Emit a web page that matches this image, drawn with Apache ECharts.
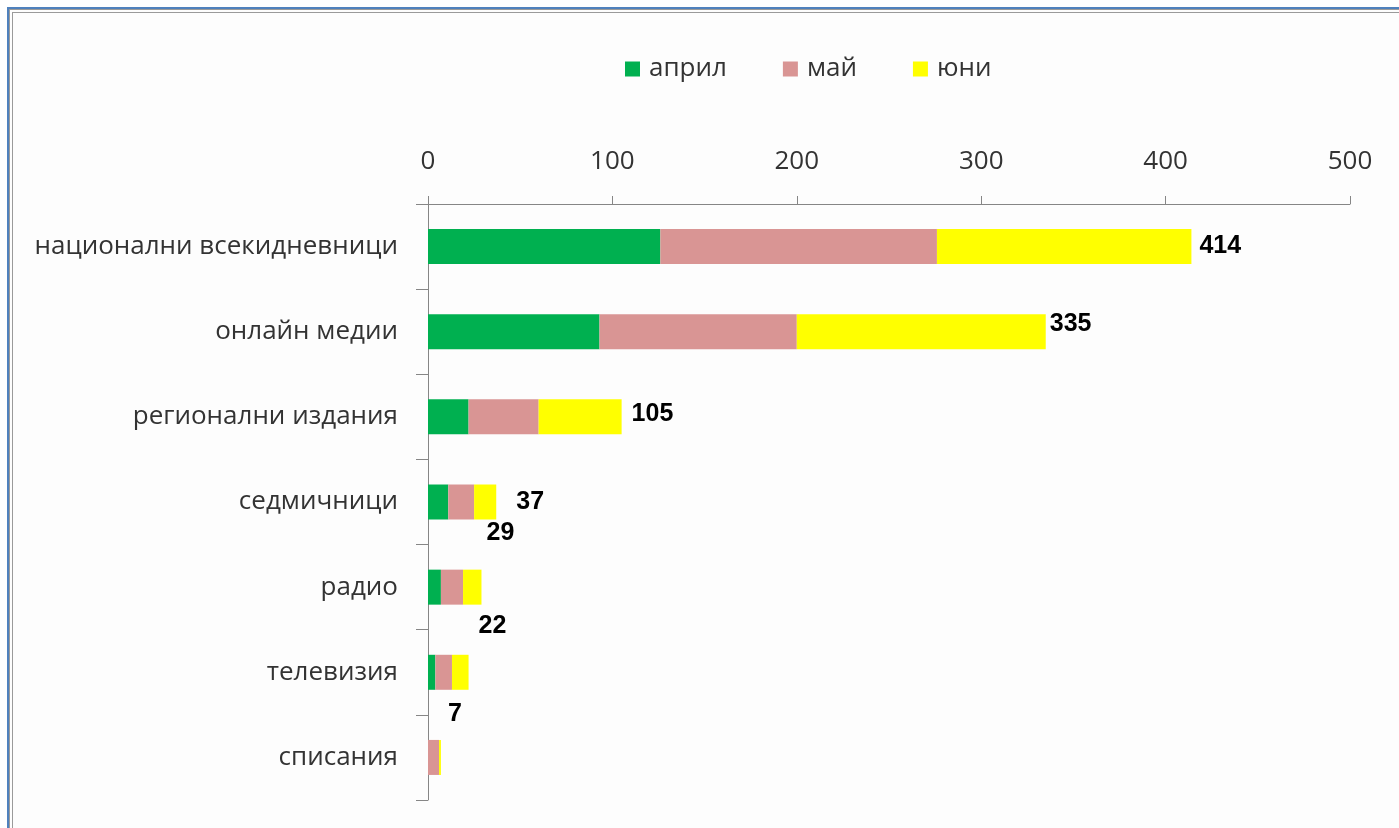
<!DOCTYPE html>
<html>
<head>
<meta charset="utf-8">
<script src="https://cdn.jsdelivr.net/npm/echarts@6/dist/echarts.min.js"></script>
<style>
    html, body { margin: 0; padding: 0; background: #fff; }
    #frame {
        position: absolute; left: 7px; top: 7px; width: 1400px; height: 830px;
        border-left: 2px solid #4f81bd; border-top: 2px solid #4f81bd;
    }
    #inner {
        position: absolute; left: 0; top: 0; right: 0; bottom: 0;
        border-left: 4px double #9a9a9a; border-top: 4px double #9a9a9a;
        background: #fdfdfd;
    }
    #chart { position: absolute; left: 0; top: 0; width: 1399px; height: 828px; }
</style>
</head>
<body>
<div id="frame"><div id="inner"></div></div>
<div id="chart"></div>
<script>
var categories = [
    "национални всекидневници",
    "онлайн медии",
    "регионални издания",
    "седмичници",
    "радио",
    "телевизия",
    "списания",
];
var seriesNames = ["април", "май", "юни"];
var april = [126, 93, 22, 11, 7, 4, 0];
var may = [150, 107, 38, 14, 12, 9, 6];
var june = [138, 135, 45, 12, 10, 9, 1];
var totals = [414, 335, 105, 37, 29, 22, 7];
var xTicks = [0, 100, 200, 300, 400, 500];

var colors = ["#00B050", "#D99594", "#FFFF00"];
// where each total label sits relative to the end of its bar
var labelOffsets = [[3, 0], [-1, -8], [5, -3], [15, 0], [0, -54], [5, -46], [2, -43]];

var fontMain = "'Open Sans', sans-serif";

function barSeries(name, values, color, withTotals) {
    var s = {
        name: name,
        type: "bar",
        stack: "total",
        barWidth: 35,
        itemStyle: { color: color },
        data: values,
    };
    if (withTotals) {
        s.data = values.map(function (v, i) {
            return { value: v, label: { offset: labelOffsets[i] } };
        });
        s.label = {
            show: true,
            position: "right",
            distance: 5,
            fontFamily: "'Liberation Sans', Arial, sans-serif",
            fontWeight: "bold",
            fontSize: 25,
            color: "#000",
            formatter: function (p) {
                return totals[p.dataIndex];
            },
        };
    }
    return s;
}

var option = {
    animation: false,
    backgroundColor: "transparent",
    legend: {
        top: 51,
        left: 620,
        itemWidth: 15,
        itemHeight: 15,
        itemGap: 56,
        icon: "rect",
        data: seriesNames,
        textStyle: {
            fontFamily: fontMain,
            fontSize: 26,
            color: "#333",
            padding: [0, 0, 0, 4],
        },
    },
    grid: {
        left: 428,
        right: 49,
        top: 204,
        bottom: 28,
        containLabel: false,
    },
    xAxis: {
        type: "value",
        position: "top",
        min: xTicks[0],
        max: xTicks[xTicks.length - 1],
        interval: 100,
        splitLine: { show: false },
        axisLine: { show: true, lineStyle: { color: "#868686", width: 1 } },
        axisTick: { show: true, length: 8, lineStyle: { color: "#868686" } },
        axisLabel: {
            margin: 29,
            fontFamily: fontMain,
            fontSize: 26,
            color: "#333",
        },
    },
    yAxis: {
        type: "category",
        inverse: true,
        data: categories,
        axisLine: { show: true, lineStyle: { color: "#868686", width: 1 } },
        axisTick: { show: true, length: 12, lineStyle: { color: "#868686" } },
        axisLabel: {
            margin: 30,
            fontFamily: fontMain,
            fontSize: 26,
            color: "#333",
        },
    },
    series: [
        barSeries(seriesNames[0], april, colors[0], false),
        barSeries(seriesNames[1], may, colors[1], false),
        barSeries(seriesNames[2], june, colors[2], true),
    ],
};

var chart = echarts.init(document.getElementById("chart"));
chart.setOption(option);
</script>
</body>
</html>
